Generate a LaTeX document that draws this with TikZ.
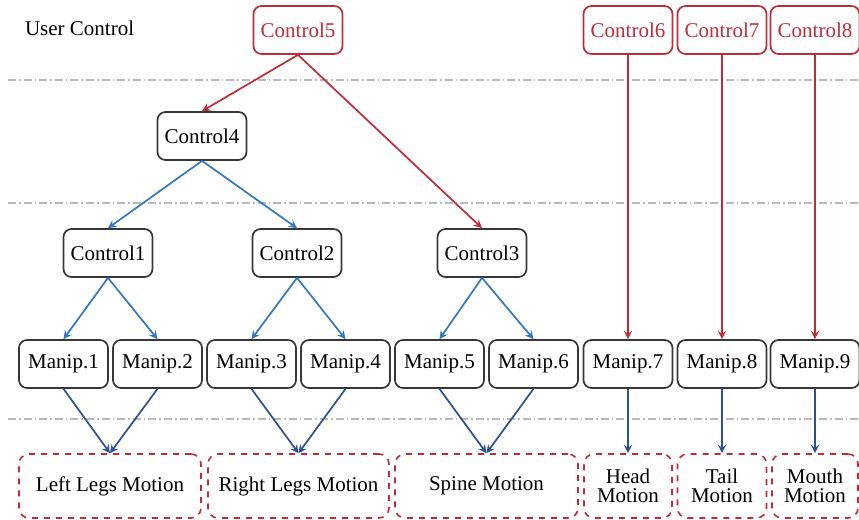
\documentclass[tikz,border=0pt]{standalone}
\usepackage{fontspec}
\setmainfont{Liberation Serif}
\usepackage{tikz}
\usetikzlibrary{arrows,positioning}
\usepackage{xcolor}
\definecolor{ctrlred}{RGB}{190,45,55}
\definecolor{ctrlblue}{RGB}{50,120,190}
\definecolor{manblue}{RGB}{45,80,145}
\definecolor{boxgray}{RGB}{55,55,55}
\definecolor{sepgray}{RGB}{185,185,185}

\begin{document}
\begin{tikzpicture}[x=0.5pt, y=-0.5pt, >=stealth,
    every node/.style={font=\fontsize{10.5}{9.2}\selectfont},
    box/.style={draw=boxgray, rounded corners=4pt, line width=0.85pt, minimum width=44.5pt, minimum height=24pt, inner sep=1pt},
    userbox/.style={box, draw=ctrlred, text=ctrlred},
    motion/.style={draw=ctrlred, dashed, rounded corners=5pt, line width=0.8pt, minimum height=32pt, inner sep=1pt, align=center},
    sep/.style={draw=sepgray, line width=0.6pt, dash pattern=on 4pt off 1.5pt on 0.8pt off 1.5pt},
    redarr/.style={->, draw=ctrlred, line width=0.85pt},
    bluearr/.style={->, draw=ctrlblue, line width=0.85pt},
    manarr/.style={->, draw=manblue, line width=0.85pt}]
    \useasboundingbox (0,0) rectangle (859,520);
                    \draw[sep] (8,80) -- (859,80);
                    \draw[sep] (8,203) -- (859,203);
                    \draw[sep] (8,419) -- (859,419);
                    \node[anchor=west] (UC) at (18,28) {User Control};
                    \node[userbox] (C5) at (298,30) {Control5};
                    \node[userbox] (C6) at (628,30) {Control6};
                    \node[userbox] (C7) at (722,30) {Control7};
                    \node[userbox] (C8) at (815,30) {Control8};
                    \node[box] (C4) at (202,136) {Control4};
                    \node[box] (C1) at (108,253) {Control1};
                    \node[box] (C2) at (297,253) {Control2};
                    \node[box] (C3) at (482,253) {Control3};
                    \node[box] (M1) at (63.5,364) {Manip.1};
                    \node[box] (M2) at (157.5,364) {Manip.2};
                    \node[box] (M3) at (251.5,364) {Manip.3};
                    \node[box] (M4) at (345.5,364) {Manip.4};
                    \node[box] (M5) at (439.5,364) {Manip.5};
                    \node[box] (M6) at (533.5,364) {Manip.6};
                    \node[box] (M7) at (628,364) {Manip.7};
                    \node[box] (M8) at (722,364) {Manip.8};
                    \node[box] (M9) at (815,364) {Manip.9};
                    \node[motion, minimum width=91pt] (LeftLegs) at (110,486) {Left Legs Motion};
                    \node[motion, minimum width=90.5pt] (RightLegs) at (298.5,486) {Right Legs Motion};
                    \node[motion, minimum width=91.5pt] (Spine) at (486.5,486) {Spine Motion};
                    \node[motion, minimum width=44pt] (Head) at (628,486) {Head\\Motion};
                    \node[motion, minimum width=44.5pt] (Tail) at (722,486) {Tail\\Motion};
                    \node[motion, minimum width=43pt] (Mouth) at (815,486) {Mouth\\Motion};
                    \draw[redarr] (C5.south) -- (C4.north);
                    \draw[redarr] (C5.south) -- (C3.north);
                    \draw[redarr] (C6.south) -- (C6.south |- M7.north);
                    \draw[redarr] (C7.south) -- (C7.south |- M8.north);
                    \draw[redarr] (C8.south) -- (C8.south |- M9.north);
                    \draw[bluearr] (C4.south) -- (C1.north);
                    \draw[bluearr] (C4.south) -- (C2.north);
                    \draw[bluearr] (C1.south) -- (M1.north);
                    \draw[bluearr] (C1.south) -- (M2.north);
                    \draw[bluearr] (C2.south) -- (M3.north);
                    \draw[bluearr] (C2.south) -- (M4.north);
                    \draw[bluearr] (C3.south) -- (M5.north);
                    \draw[bluearr] (C3.south) -- (M6.north);
                    \draw[manarr] (M1.south) -- (LeftLegs.north);
                    \draw[manarr] (M2.south) -- (LeftLegs.north);
                    \draw[manarr] (M3.south) -- (RightLegs.north);
                    \draw[manarr] (M4.south) -- (RightLegs.north);
                    \draw[manarr] (M5.south) -- (Spine.north);
                    \draw[manarr] (M6.south) -- (Spine.north);
                    \draw[manarr] (M7.south) -- (M7.south |- Head.north);
                    \draw[manarr] (M8.south) -- (M8.south |- Tail.north);
                    \draw[manarr] (M9.south) -- (M9.south |- Mouth.north);
                \end{tikzpicture}
\end{document}
